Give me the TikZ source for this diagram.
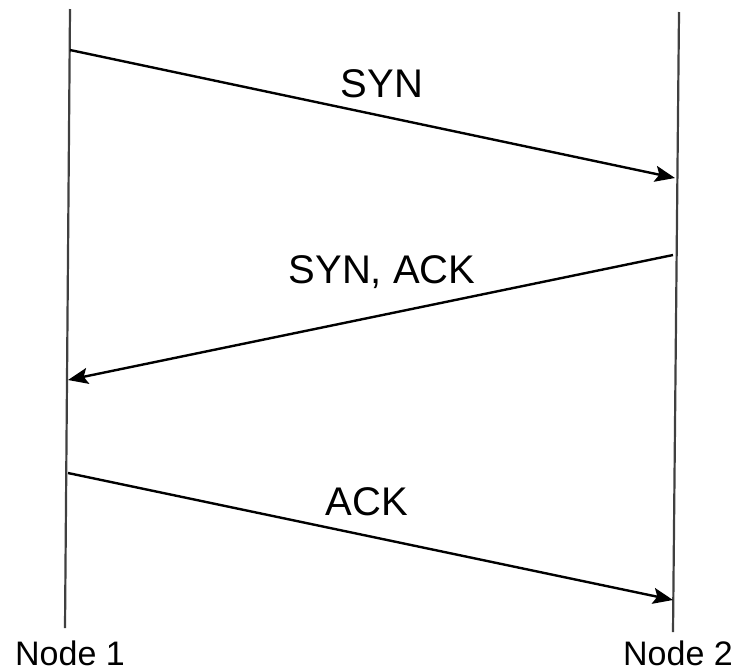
\documentclass[tikz,border=0pt]{standalone}
\usepackage{fontspec}
\setmainfont{Liberation Sans}
\usetikzlibrary{arrows.meta}
\tikzset{
  lifeline/.style={line width=1.1pt,black!75},
  msg/.style={line width=1.2pt,-{Stealth[length=10pt,width=8pt,inset=2pt]}},
  msglabel/.style={anchor=base,inner sep=0pt,font=\fontsize{20}{24}\selectfont},
  hostlabel/.style={anchor=base,inner sep=0pt,font=\fontsize{17}{20}\selectfont}
}
\begin{document}
\begin{tikzpicture}[x=0.5pt,y=-0.5pt]
      \useasboundingbox (0,0) rectangle (738,670);
      % lifelines
      \coordinate (n1top) at (70,9);
      \coordinate (n1bot) at (65,628);
      \coordinate (n2top) at (679,12);
      \coordinate (n2bot) at (673,632);
      \draw[lifeline] (n1top) -- (n1bot);
      \draw[lifeline] (n2top) -- (n2bot);
      \node[hostlabel] (host1) at (70,665) {Node 1};
      \node[hostlabel] (host2) at (678,665) {Node 2};
      % messages
      \coordinate (synA) at (70,50);
      \coordinate (synB) at (675,178);
      \coordinate (synackA) at (673,255);
      \coordinate (synackB) at (68,380);
      \coordinate (ackA) at (68,473);
      \coordinate (ackB) at (673,600);
      \draw[msg] (synA) -- (synB);
      \draw[msg] (synackA) -- (synackB);
      \draw[msg] (ackA) -- (ackB);
      \node[msglabel] (syn) at (382,97) {SYN};
      \node[msglabel] (synack) at (382,283) {SYN, ACK};
      \node[msglabel] (ack) at (367,515) {ACK};
    \end{tikzpicture}
\end{document}
